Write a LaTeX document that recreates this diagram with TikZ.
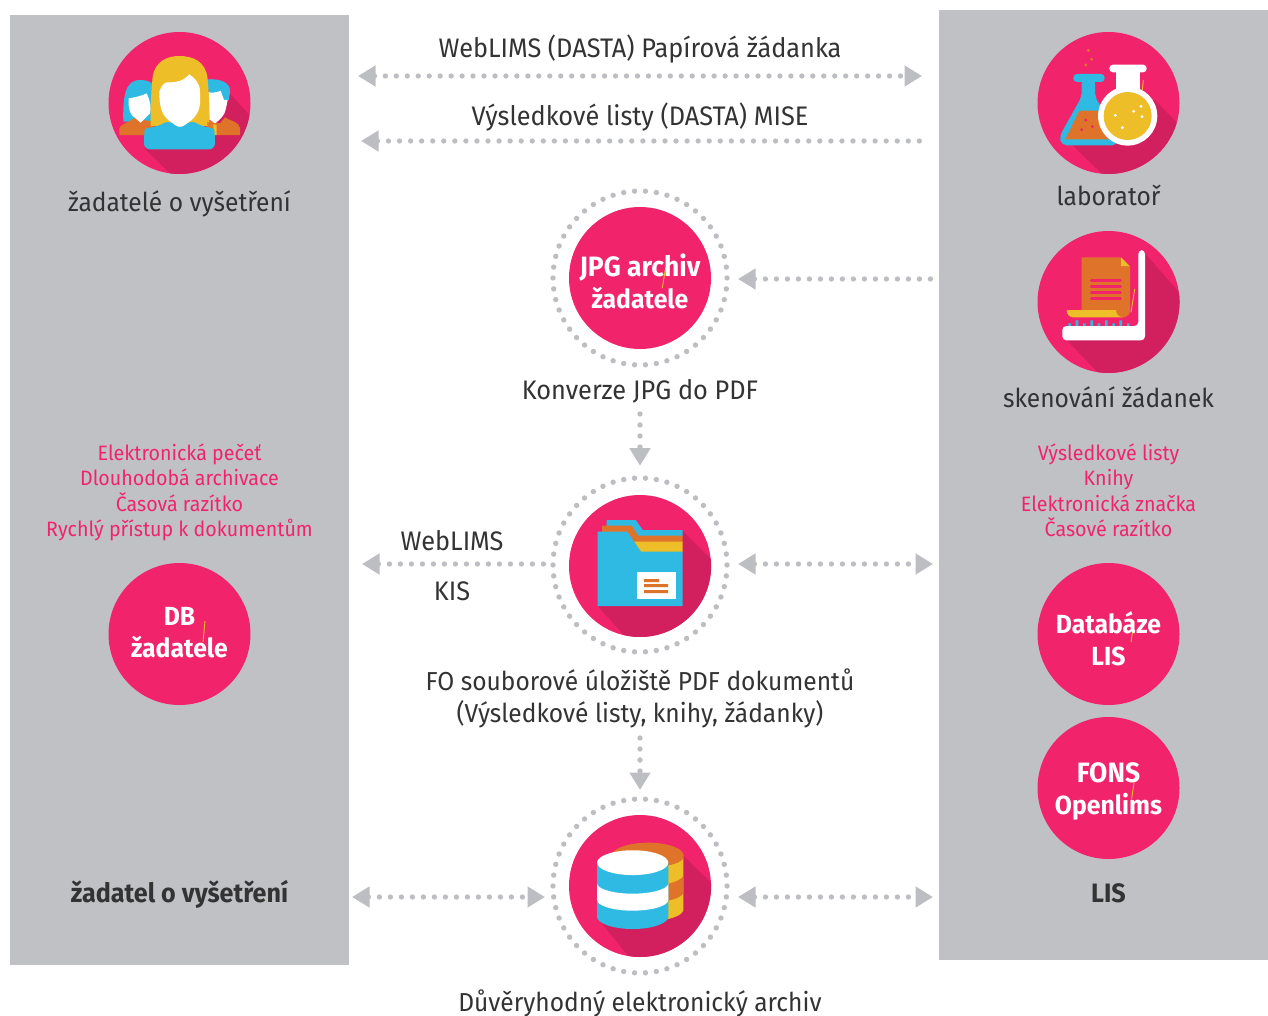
\documentclass[tikz,border=0pt]{standalone}
\usepackage{fontspec}
\setmainfont[FakeStretch=0.945]{Fira Sans}
\usetikzlibrary{arrows.meta}
\definecolor{panelgray}{HTML}{C0C1C5}
\definecolor{dotgray}{HTML}{BDBEC2}
\definecolor{hotpink}{HTML}{F1246B}
\definecolor{darkpink}{HTML}{D21F5E}
\definecolor{skyblue}{HTML}{2FBAE3}
\definecolor{iconorange}{HTML}{E0732A}
\definecolor{iconyellow}{HTML}{EDBE28}
\definecolor{labeldark}{HTML}{333333}
\tikzset{
  x=0.5pt,y=-0.5pt,
  panel/.style={fill=panelgray,draw=none},
  disc/.style={circle,fill=hotpink,draw=none,minimum size=71pt,inner sep=0pt},
  label/.style={anchor=base,inner sep=0pt,text=labeldark,font=\fontsize{13}{16}\selectfont},
  widelabel/.style={label,font=\fontsize{13.4}{16}\selectfont},
  pinklabel/.style={anchor=center,inner sep=0pt,align=center,text=hotpink,font=\fontsize{10.4}{12.75}\selectfont},
  whitelabel/.style={anchor=center,inner sep=0pt,align=center,text=white,font=\fontsize{13.1}{16}\selectfont\bfseries},
  boldlabel/.style={anchor=base,inner sep=0pt,text=labeldark,font=\fontsize{13.3}{16}\selectfont\bfseries},
  flow/.style={draw=dotgray,line width=2.65pt,line cap=round,dash pattern=on 0pt off 5.5pt},
  gaptip/.tip={Rectangle[length=0.01pt,width=0.01pt,sep=3.3pt] Triangle[length=8.75pt,width=10pt]},
  oneway/.style={flow,{gaptip}-},
  twoway/.style={flow,{gaptip}-{gaptip}},
  ringdot/.style={fill=dotgray,draw=none},
  sliver/.style={draw=iconyellow,line width=0.45pt},
  zoomed/.style={x=0.16667pt,y=-0.16667pt},
}
\newcommand{\ringat}[2]{\foreach \k in {0,...,49}{\fill[ringdot] ({#1+87*cos(\k*7.2)},{#2+87*sin(\k*7.2)}) circle[radius=1.35pt];}}
\begin{document}
\begin{tikzpicture}
\useasboundingbox (0,0) rectangle (1268,1016);
\fill[white] (0,0) rectangle (1268,1016);
\fill[panel] (10,15) rectangle (349,965);
\fill[panel] (939,10) rectangle (1268,960);

% rings
\ringat{640}{278}
\ringat{640}{565}
\ringat{640}{886}

% discs
\node[disc] (people) at (179.5,103) {};
\node[disc] (flasks) at (1108.5,103) {};
\node[disc] (scan) at (1108.5,302) {};
\node[disc] (jpg) at (640,278) {};
\node[disc] (folder) at (640,566) {};
\node[disc] (archive) at (640,886) {};
\node[disc] (dbreq) at (179.5,634) {};
\node[disc] (dblis) at (1108.5,634) {};
\node[disc] (fons) at (1108.5,788) {};

% people icon
\begin{scope}[shift={(100,20)},zoomed]
 \clip (238,248) circle[radius=35.6pt];
 \fill[darkpink] (133,385) -- (230,480) -- (480,480) -- (480,320) -- (385,215) -- cycle;
 % back left
 \fill[skyblue] (70,305) .. controls (68,230) and (75,180) .. (120,180) .. controls (160,180) and (170,200) .. (170,240) -- (170,305) -- cycle;
 \fill[iconorange] (58,345) -- (58,325) .. controls (60,312) and (85,310) .. (100,295) -- (160,305) -- (160,345) -- cycle;
 \fill[white] (86,235) .. controls (105,232) and (125,228) .. (140,220) .. controls (150,240) and (155,265) .. (150,280) -- (122,308) -- (95,285) .. controls (85,270) and (85,250) .. (86,235) -- cycle;
 % back right
 \fill[skyblue] (320,178) .. controls (365,175) and (392,190) .. (390,215) -- (387,240) -- (330,240) -- cycle;
 \fill[iconorange] (320,300) -- (360,310) -- (375,292) .. controls (395,305) and (418,305) .. (420,325) -- (420,345) -- (320,345) -- cycle;
 \fill[white] (315,215) .. controls (335,220) and (350,218) .. (362,212) -- (372,240) -- (383,240) -- (378,265) .. controls (375,285) and (360,300) .. (345,310) -- (315,290) -- cycle;
 % centre
 \fill[iconyellow] (152,318) .. controls (150,260) and (155,200) .. (158,170) .. controls (165,125) and (200,108) .. (238,108) .. controls (280,108) and (315,125) .. (322,170) .. controls (326,210) and (330,265) .. (328,318) -- cycle;
 \fill[iconorange!90!iconyellow] (322,305) -- (338,315) -- (338,345) -- (322,345) -- cycle;
 \fill[iconyellow] (340,312) -- (350,316) -- (350,345) -- (340,345) -- cycle;
 \fill[white] (178,215) .. controls (185,195) and (195,185) .. (205,187) .. controls (230,188) and (255,180) .. (268,163) .. controls (285,175) and (300,190) .. (300,215) .. controls (302,250) and (302,275) .. (275,300) -- (240,327) -- (205,300) .. controls (180,280) and (178,245) .. (178,215) -- cycle;
 \fill[skyblue,rounded corners=3pt] (132,388) -- (132,345) .. controls (135,325) and (175,320) .. (205,300) -- (240,327) -- (275,300) .. controls (305,320) and (342,325) .. (345,345) -- (345,388) -- cycle;
\end{scope}

% flasks icon
\begin{scope}[shift={(1030,20)},zoomed]
 \clip (235,248) circle[radius=35.6pt];
 \fill[darkpink] (130,378) -- (235,480) -- (480,480) -- (480,350) -- (375,240) -- cycle;
 \foreach \a/\b in {175/91,185/118,167/135}{\fill[iconorange] (\a,\b) circle[radius=0.8pt];}
 \fill[skyblue,rounded corners=1.8pt] (130,162) rectangle (224,186);
 \fill[skyblue,rounded corners=2.5pt] (155,175) -- (155,230) -- (88,350) -- (95,376) -- (262,376) -- (260,340) -- (195,230) -- (195,175) -- cycle;
 \fill[iconorange,rounded corners=0.6pt] (148,272) -- (205,272) -- (250,358) -- (106,358) -- cycle;
 \foreach \a/\b in {167/300,187/320,155/329}{\fill[hotpink] (\a,\b) circle[radius=0.8pt];}
 \fill[white,rounded corners=1.8pt] (238,134) rectangle (350,157);
 \fill[white] (258,150) rectangle (330,240);
 \fill[white] (293,288) circle[radius=14.8pt];
 \fill[iconyellow] (293,288) circle[radius=12pt];
 \foreach \a/\b in {256/286,311/274,333/259,336/290,277/323}{\fill[white] (\a,\b) circle[radius=0.8pt];}
 \draw[sliver] (340,180) -- (337,210);
\end{scope}

% scanner icon
\begin{scope}[shift={(1030,225)},zoomed]
 \clip (235,230) circle[radius=35.6pt];
 \fill[darkpink] (110,345) -- (240,480) -- (480,480) -- (480,240) -- (345,85) -- (330,300) -- cycle;
 \fill[iconorange] (155,97) -- (273,97) -- (300,123) -- (300,260) .. controls (298,272) and (288,277) .. (275,277) -- (155,260) -- cycle;
 \fill[iconyellow] (273,97) -- (298,123) -- (273,123) -- cycle;
 \fill[iconyellow] (110,255) -- (258,255) .. controls (258,265) and (265,277) .. (280,277) -- (130,277) .. controls (118,277) and (110,268) .. (110,255) -- cycle;
 \foreach \b in {167,184,202,219}{\draw[hotpink,line width=1.5pt,line cap=round] (184,\b) -- (271,\b);}
 \draw[sliver] (314,192) -- (303,262);
 \fill[skyblue] \foreach \a/\b in {119/295,141/286,163/295,185/286,207/295,229/286,251/295,272/286,295/295}{(\a-4,\b) rectangle (\a+4,305)};
 \fill[white,rounded corners=2pt] (97,303) -- (325,303) -- (325,75) -- (345,75) -- (345,346) -- (97,346) -- cycle;
\end{scope}

% folder icon
\begin{scope}[shift={(545,470)},zoomed]
 \clip (285,287) circle[radius=35.6pt];
 \fill[darkpink] (158,408) -- (250,510) -- (520,510) -- (520,290) -- (413,182) -- cycle;
 \fill[skyblue] (185,150) -- (272,150) -- (293,180) -- (413,180) -- (413,200) -- (185,200) -- cycle;
 \fill[iconorange] (171,167) -- (260,167) -- (280,197) -- (413,197) -- (413,217) -- (171,217) -- cycle;
 \fill[iconyellow] (260,215) -- (413,215) -- (413,246) -- (280,246) -- cycle;
 \fill[skyblue] (158,185) -- (247,185) -- (288,245) -- (413,245) -- (413,408) -- (158,408) -- cycle;
 \fill[white] (276,306) rectangle (393,387);
 \fill[iconorange] (297,327) rectangle (342,336) (297,342) rectangle (369,351) (297,360) rectangle (369,369);
\end{scope}

% database icon
\begin{scope}[shift={(545,790)},zoomed]
 \clip (285,287) circle[radius=35.6pt];
 \fill[darkpink] (158,385) -- (260,510) -- (520,510) -- (520,300) -- (413,195) -- cycle;
 \fill[iconyellow] (300,230) -- (370,225) .. controls (395,220) and (415,210) .. (415,195) -- (415,362) .. controls (410,375) and (390,382) .. (370,387) -- (300,387) -- cycle;
 \fill[iconorange] (205,185) .. controls (225,167) and (265,158) .. (310,158) .. controls (368,158) and (415,175) .. (415,195) -- (415,205) .. controls (410,215) and (390,222) .. (370,226) -- (300,226) -- cycle;
 \fill[iconorange] (365,282) .. controls (390,277) and (410,268) .. (415,258) -- (415,310) .. controls (410,320) and (390,328) .. (365,333) -- cycle;
 \fill[skyblue] (156,218) -- (156,380) .. controls (156,400) and (204,417) .. (263,417) .. controls (322,417) and (370,400) .. (370,380) -- (370,218) -- cycle;
 \fill[white] (156,280) .. controls (156,297) and (204,311) .. (263,311) .. controls (322,311) and (370,297) .. (370,280) -- (370,330) .. controls (370,347) and (322,362) .. (263,362) .. controls (204,362) and (156,347) .. (156,330) -- cycle;
 \fill[white] (263,218) ellipse[x radius=17.8pt,y radius=6.2pt];
\end{scope}

% slivers in text discs
\coordinate (s1a) at (665.7,267); \coordinate (s1b) at (662.3,288);
\coordinate (s2a) at (205,621); \coordinate (s2b) at (203,642);
\coordinate (s3a) at (1134,621); \coordinate (s3b) at (1131,642);
\coordinate (s4a) at (1134,783); \coordinate (s4b) at (1131,803);
\draw[sliver] (s1a)--(s1b); \draw[sliver] (s2a)--(s2b); \draw[sliver] (s3a)--(s3b); \draw[sliver] (s4a)--(s4b);

% disc labels
\node[whitelabel] (tjpg) at (640,281) {{\fontsize{14}{16}\selectfont JPG archiv}\\žadatele};
\node[whitelabel] (tdb) at (179.5,633) {DB\\žadatele};
\node[whitelabel] (tlis) at (1108.5,639) {Databáze\\LIS};
\node[whitelabel] (tfons) at (1108.5,791) {{\fontsize{14}{16}\selectfont FONS}\\Openlims};

% labels
\node[label] (l1) at (179.5,212) {žadatelé o vyšetření};
\node[label] (l2) at (1108.5,205.5) {laboratoř};
\node[label] (l3) at (1108.5,407) {skenování žádanek};
\node[widelabel] (t1) at (640,58) {WebLIMS (DASTA) Papírová žádanka};
\node[widelabel] (t2) at (640,126) {Výsledkové listy (DASTA) MISE};
\node[widelabel] (l4) at (640,399) {Konverze JPG do PDF};
\node[widelabel] (t3) at (452,550) {WebLIMS};
\node[widelabel] (t4) at (452,600) {KIS};
\node[label] (l5) at (640,690) {FO souborové úložiště PDF dokumentů};
\node[label] (l6) at (640,722) {(Výsledkové listy, knihy, žádanky)};
\node[label] (l7) at (640,1011) {Důvěryhodný elektronický archiv};
\node[pinklabel] (p1) at (179.5,492.5) {Elektronická pečeť\\Dlouhodobá archivace\\Časová razítko\\Rychlý přístup k dokumentům};
\node[pinklabel] (p2) at (1108.5,490.5) {Výsledkové listy\\Knihy\\Elektronická značka\\Časové razítko};
\node[boldlabel] (b1) at (179.5,902) {žadatel o vyšetření};
\node[boldlabel] (b2) at (1108.5,902) {LIS};

% connectors
\coordinate (a1l) at (358,76); \coordinate (a1r) at (922,76);
\coordinate (a2l) at (361,141); \coordinate (a2r) at (930,141);
\coordinate (a3l) at (738,279); \coordinate (a3r) at (936,279);
\coordinate (a4t) at (640,414); \coordinate (a4b) at (640,465.7);
\coordinate (a5l) at (362,564); \coordinate (a5r) at (545,564);
\coordinate (a6l) at (738,564); \coordinate (a6r) at (933,564);
\coordinate (a7t) at (640,738); \coordinate (a7b) at (640,790);
\coordinate (a8l) at (352,897); \coordinate (a8r) at (545,897);
\coordinate (a9l) at (738,897); \coordinate (a9r) at (933,897);
\draw[twoway,dash pattern=on 0pt off 5.48pt] (a1l) -- (a1r);
\draw[oneway,dash pattern=on 0pt off 5.53pt] (a2l) -- (a2r);
\draw[oneway] (a3l) -- (a3r);
\draw[flow,-{Triangle[length=8.75pt,width=10pt]}] (a4t) -- (a4b);
\draw[oneway] (a5l) -- (a5r);
\draw[twoway] (a6l) -- (a6r);
\draw[flow,-{Triangle[length=8.75pt,width=10pt]}] (a7t) -- (a7b);
\draw[twoway] (a8l) -- (a8r);
\draw[twoway] (a9l) -- (a9r);
\end{tikzpicture}
\end{document}
